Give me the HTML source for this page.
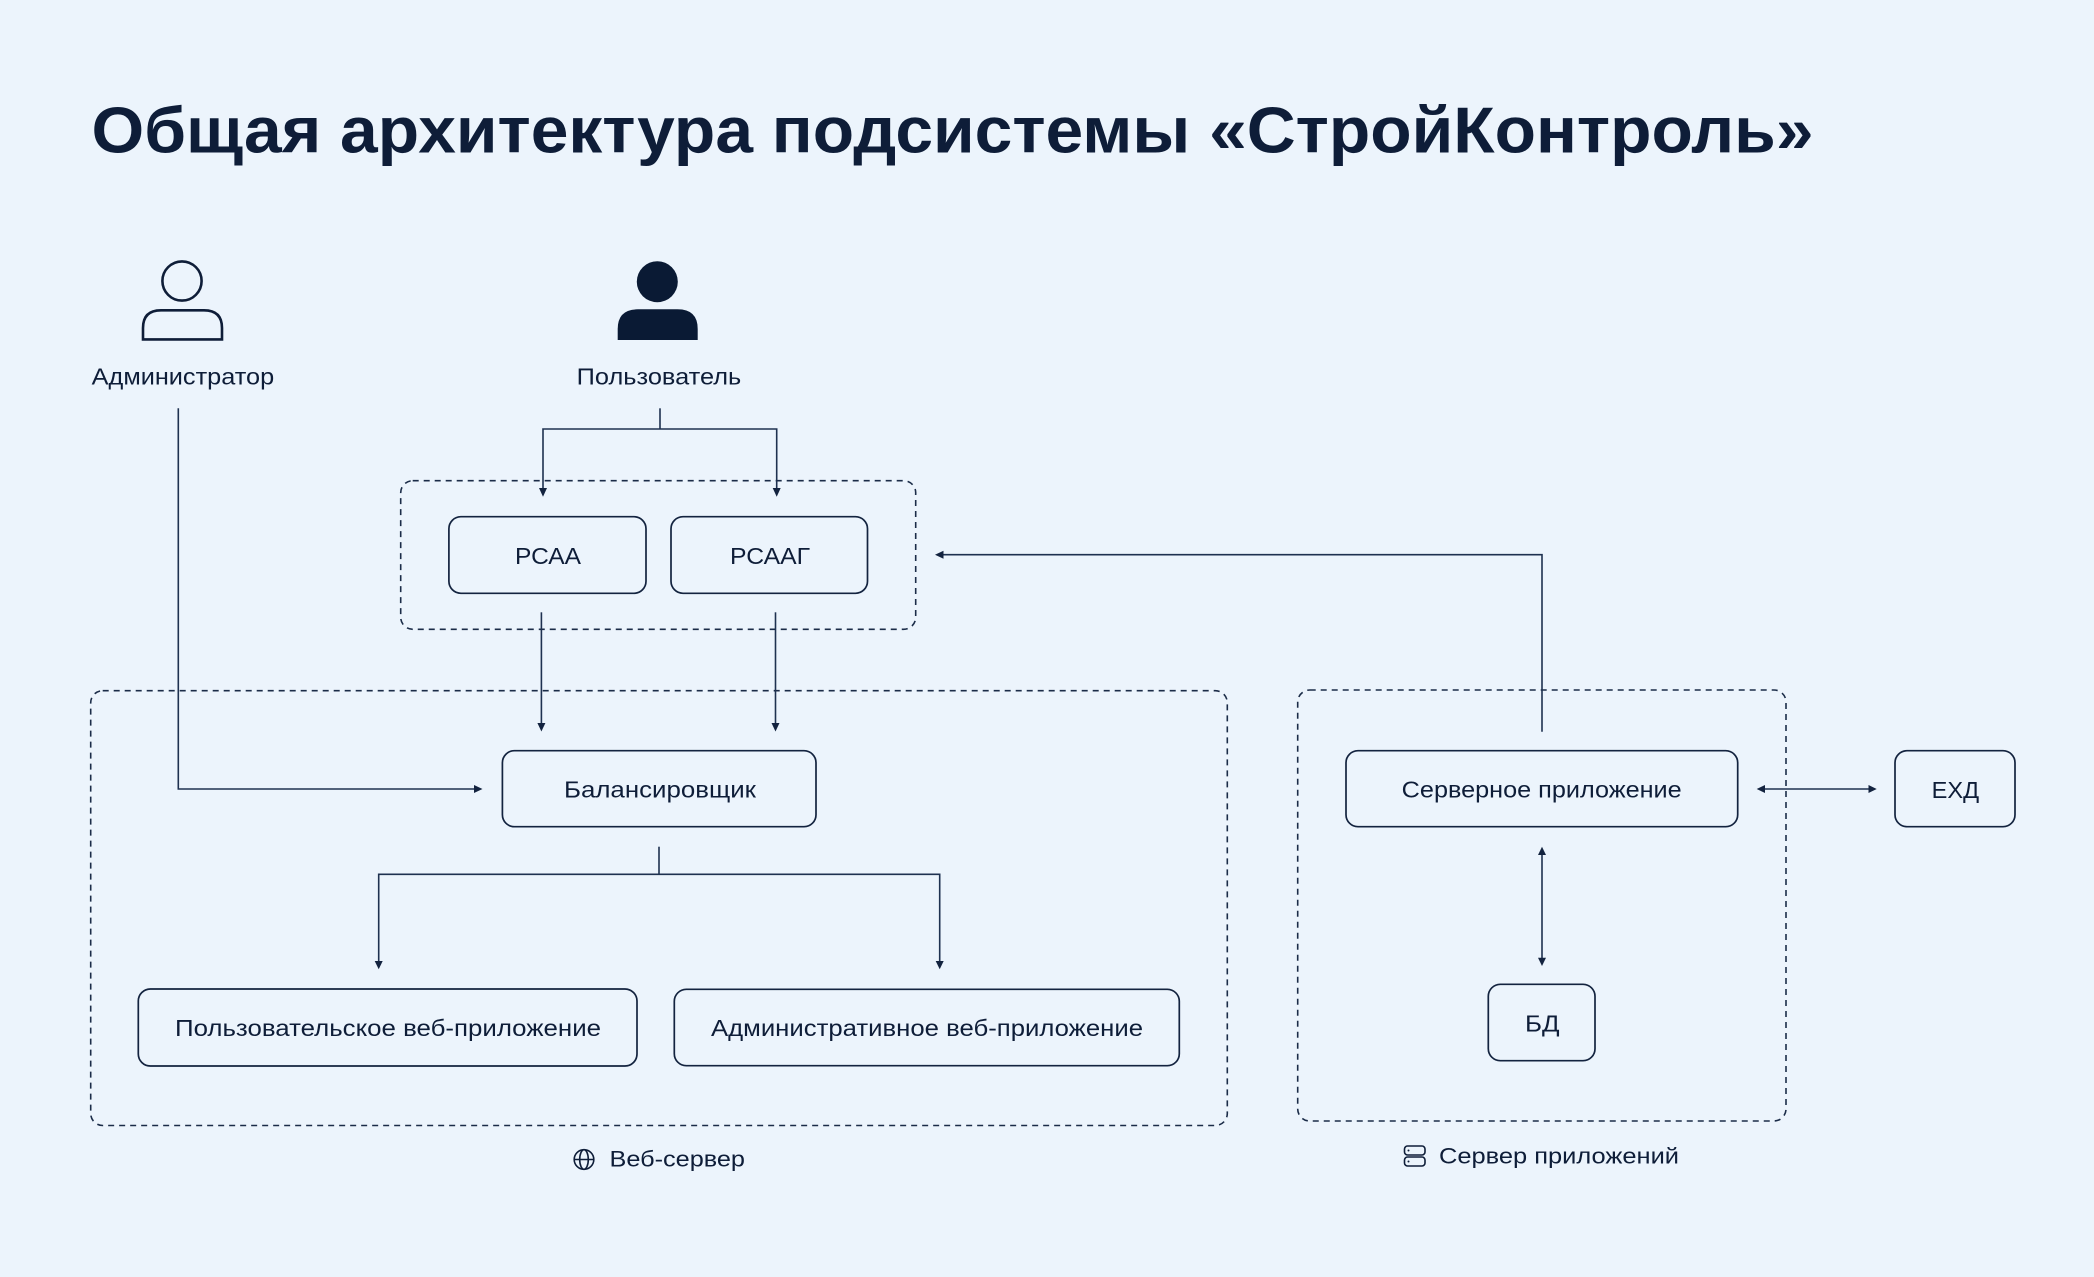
<!DOCTYPE html>
<html lang="ru">
<head>
<meta charset="utf-8">
<title>Общая архитектура подсистемы «СтройКонтроль»</title>
<style>
  html, body { margin: 0; padding: 0; background: #ECF4FC; }
  body { width: 2094px; height: 1277px; overflow: hidden; }
  svg { display: block; }
  .t { font-family: "Liberation Sans", "Noto Sans CJK SC", sans-serif; fill: #0E1D38; }
</style>
</head>
<body>
<svg width="2094" height="1277" viewBox="0 0 2094 1277" xmlns="http://www.w3.org/2000/svg">
  <rect x="0" y="0" width="2094" height="1277" fill="#ECF4FC"/>

  <!-- Title -->
  <text class="t" x="91.5" y="152.5" font-size="65" font-weight="bold" fill="#0A1A34" textLength="1722" lengthAdjust="spacingAndGlyphs">Общая архитектура подсистемы «СтройКонтроль»</text>

  <!-- Dashed group boxes -->
  <g fill="none" stroke="#1B2C48" stroke-width="1.6" stroke-dasharray="6 5">
    <rect x="400.7" y="480.7" width="515" height="148.6" rx="12"/>
    <rect x="90.7" y="690.7" width="1136.6" height="434.8" rx="12"/>
    <rect x="1297.7" y="690" width="488.3" height="431" rx="12"/>
  </g>

  <!-- Solid boxes -->
  <g fill="none" stroke="#13233F" stroke-width="1.7">
    <rect x="448.9" y="516.7" width="197.1" height="76.6" rx="12"/>
    <rect x="671" y="516.7" width="196.5" height="76.6" rx="12"/>
    <rect x="502.4" y="750.7" width="313.6" height="76" rx="12"/>
    <rect x="138.3" y="989" width="498.7" height="77" rx="12"/>
    <rect x="674.3" y="989.3" width="505" height="76.4" rx="12"/>
    <rect x="1346" y="750.7" width="391.7" height="76" rx="12"/>
    <rect x="1895" y="750.7" width="120" height="76" rx="12"/>
    <rect x="1488.3" y="984.3" width="106.7" height="76.4" rx="12"/>
  </g>

  <!-- Connectors -->
  <g fill="none" stroke="#1E3150" stroke-width="1.6">
    <!-- Admin -> Balancer -->
    <polyline points="178.3,408.3 178.3,789 475,789"/>
    <!-- User -> RCAA / RCAAG -->
    <polyline points="660,408.3 660,429"/>
    <polyline points="543,489 543,429 776.7,429 776.7,489"/>
    <!-- RCAA -> Balancer -->
    <line x1="541.4" y1="612.3" x2="541.4" y2="724"/>
    <line x1="775.5" y1="612.3" x2="775.5" y2="724"/>
    <!-- Balancer -> web apps -->
    <polyline points="659,846.7 659,874.3"/>
    <polyline points="378.7,962 378.7,874.3 939.7,874.3 939.7,962"/>
    <!-- Server app -> RCAA group -->
    <polyline points="1542,731.7 1542,554.7 942,554.7"/>
    <!-- Server app <-> EHD -->
    <line x1="1763" y1="789" x2="1870" y2="789"/>
    <!-- Server app <-> DB -->
    <line x1="1542" y1="853" x2="1542" y2="959"/>
  </g>

  <!-- Arrowheads -->
  <g fill="#13233F">
    <polygon points="482.5,789 474,785 474,793"/>
    <polygon points="543,496.7 539,488 547,488"/>
    <polygon points="776.7,496.7 772.7,488 780.7,488"/>
    <polygon points="541.4,731.5 537.4,723 545.4,723"/>
    <polygon points="775.5,731.5 771.5,723 779.5,723"/>
    <polygon points="378.7,969.3 374.7,961 382.7,961"/>
    <polygon points="939.7,969.3 935.7,961 943.7,961"/>
    <polygon points="935,554.7 943.5,550.7 943.5,558.7"/>
    <polygon points="1756.7,789 1765,785 1765,793"/>
    <polygon points="1876.7,789 1868.5,785 1868.5,793"/>
    <polygon points="1542,846.7 1538,855 1546,855"/>
    <polygon points="1542,966 1538,957.7 1546,957.7"/>
  </g>

  <!-- Admin icon (outline) -->
  <g fill="none" stroke="#0E1D38" stroke-width="2.6">
    <circle cx="182" cy="281" r="19.6"/>
    <path d="M143,339.4 L143,328 Q143,310.3 161,310.3 L204,310.3 Q222,310.3 222,328 L222,339.4 Z"/>
  </g>

  <!-- User icon (filled) -->
  <g fill="#0A1A34">
    <circle cx="657.3" cy="281.7" r="20.5"/>
    <path d="M617.7,340 L617.7,329 Q617.7,309.3 638,309.3 L677.5,309.3 Q697.7,309.3 697.7,329 L697.7,340 Z"/>
  </g>

  <!-- Actor labels -->
  <text class="t" x="91.7" y="384.5" font-size="23" textLength="182.5" lengthAdjust="spacingAndGlyphs">Администратор</text>
  <text class="t" x="576.7" y="384.5" font-size="23" textLength="164.6" lengthAdjust="spacingAndGlyphs">Пользователь</text>

  <!-- Box labels -->
  <text class="t" x="515" y="564" font-size="23" textLength="66" lengthAdjust="spacingAndGlyphs">РСАА</text>
  <text class="t" x="730" y="564" font-size="23" textLength="80" lengthAdjust="spacingAndGlyphs">РСААГ</text>
  <text class="t" x="564" y="797.5" font-size="23" textLength="192" lengthAdjust="spacingAndGlyphs">Балансировщик</text>
  <text class="t" x="175" y="1036" font-size="23" textLength="426" lengthAdjust="spacingAndGlyphs">Пользовательское веб-приложение</text>
  <text class="t" x="711" y="1036" font-size="23" textLength="432" lengthAdjust="spacingAndGlyphs">Административное веб-приложение</text>
  <text class="t" x="1401.7" y="797.5" font-size="23" textLength="280" lengthAdjust="spacingAndGlyphs">Серверное приложение</text>
  <text class="t" x="1931.7" y="798" font-size="23" textLength="47.5" lengthAdjust="spacingAndGlyphs">ЕХД</text>
  <text class="t" x="1525" y="1031.5" font-size="23" textLength="34.5" lengthAdjust="spacingAndGlyphs">БД</text>

  <!-- Group labels -->
  <g fill="none" stroke="#0E1D38" stroke-width="1.6">
    <circle cx="584" cy="1159.5" r="9.8"/>
    <ellipse cx="584" cy="1159.5" rx="4.3" ry="9.8"/>
    <line x1="574.2" y1="1159.5" x2="593.8" y2="1159.5"/>
  </g>
  <text class="t" x="609.5" y="1166.5" font-size="22" textLength="135.5" lengthAdjust="spacingAndGlyphs">Веб-сервер</text>

  <g fill="none" stroke="#0E1D38" stroke-width="1.6">
    <rect x="1404.5" y="1146" width="20.5" height="9" rx="3"/>
    <rect x="1404.5" y="1157" width="20.5" height="9" rx="3"/>
  </g>
  <g fill="#0E1D38">
    <circle cx="1408.5" cy="1150.5" r="1"/>
    <circle cx="1408.5" cy="1161.5" r="1"/>
  </g>
  <text class="t" x="1439" y="1163.5" font-size="22" textLength="240" lengthAdjust="spacingAndGlyphs">Сервер приложений</text>
</svg>
</body>
</html>
